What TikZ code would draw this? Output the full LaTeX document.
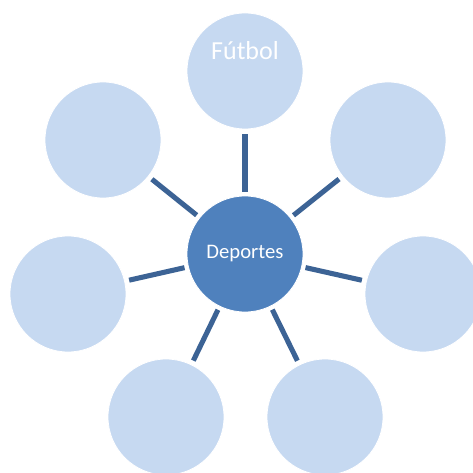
\documentclass[tikz,border=0pt]{standalone}
\usepackage{fontspec}
\setmainfont{Carlito}
\usetikzlibrary{positioning}
\definecolor{hubblue}{HTML}{4F81BD}
\definecolor{leafblue}{HTML}{C6D9F1}
\definecolor{spokeblue}{HTML}{3C6395}

\begin{document}
\begin{tikzpicture} [x = 0.75pt, y = -0.75pt,
  hub/.style = {circle, fill = hubblue, draw = white, line width = 0.6pt,
    minimum size = 87pt, inner sep = 0pt, outer sep = 0pt, text = white,
    font = \fontsize{15.5}{18}\selectfont},
  leaf/.style = {circle, fill = leafblue, draw = white, line width = 0.6pt,
    minimum size = 87pt, inner sep = 0pt, outer sep = 0pt, text = white,
    text height = 14pt, text depth = 30.5pt,
    font = \fontsize{19.5}{22}\selectfont},
  spoke/.style = {draw = spokeblue, line width = 3.8pt,
    shorten < = 3pt, shorten > = 3.5pt}]

\useasboundingbox (0,0) rectangle (472,473);

\node (hub) [hub] at (245,254) {Deportes};

% leaves, clockwise from the top
\node (futbol) [leaf] at (245,71) {Fútbol};
\node (ne) [leaf] at (388,140) {};
\node (e) [leaf] at (423,294) {};
\node (se) [leaf] at (325,417) {};
\node (sw) [leaf] at (166,417) {};
\node (w) [leaf] at (68,294) {};
\node (nw) [leaf] at (103,140) {};

\path [spoke]
  (hub) edge (futbol);
\path [spoke]
  (hub) edge (ne);
\path [spoke]
  (hub) edge (e);
\path [spoke]
  (hub) edge (se);
\path [spoke]
  (hub) edge (sw);
\path [spoke]
  (hub) edge (w);
\path [spoke]
  (hub) edge (nw);

\end{tikzpicture}
\end{document}
